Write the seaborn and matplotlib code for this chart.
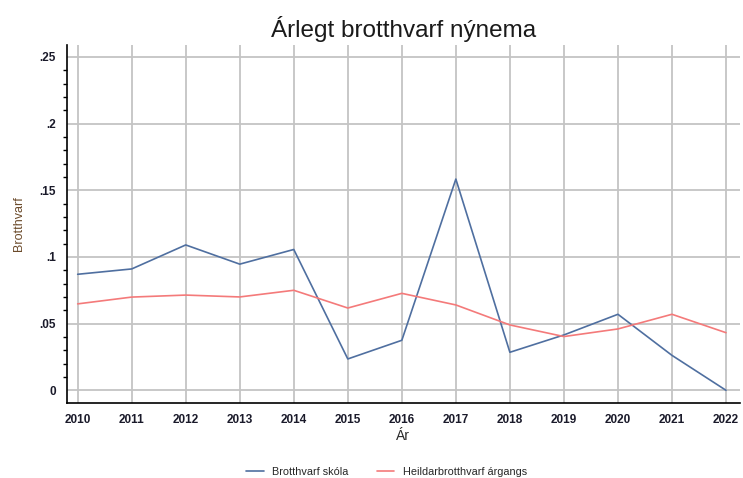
import numpy as np
import pandas as pd
import matplotlib
matplotlib.use("Agg")
import matplotlib.pyplot as plt
from matplotlib.ticker import MultipleLocator, FuncFormatter
import seaborn as sns

years = [2010, 2011, 2012, 2013, 2014, 2015, 2016, 2017, 2018, 2019, 2020, 2021, 2022]
brotthvarf_skola = [0.087, 0.091, 0.109, 0.0946, 0.1056, 0.0235, 0.0375, 0.1584,
                    0.0285, 0.0415, 0.057, 0.0262, 0.0]
heildar_argangs = [0.0648, 0.0699, 0.0714, 0.070, 0.075, 0.0617, 0.0727, 0.064,
                   0.049, 0.0403, 0.046, 0.057, 0.0432]
series_names = ["Brotthvarf skóla", "Heildarbrotthvarf árgangs"]
y_ticks = [0, 0.05, 0.1, 0.15, 0.2, 0.25]

df = pd.DataFrame({
    "Ár": years * 2,
    "Brotthvarf": brotthvarf_skola + heildar_argangs,
    "Röð": [series_names[0]] * len(years) + [series_names[1]] * len(years),
})

sns.set_style("white")
plt.rcParams["font.family"] = ["Liberation Sans", "DejaVu Sans"]

fig = plt.figure(figsize=(7.43, 4.78), dpi=100)
ax = fig.add_axes([0.090, 0.157, 0.906, 0.749])

sns.lineplot(data=df, x="Ár", y="Brotthvarf", hue="Röð",
             palette=["#4f6fa0", "#f47a7a"], linewidth=1.2, ax=ax)

ax.set_xlim(2009.8, 2022.26)
ax.set_ylim(-0.0095, 0.259)
ax.set_xticks(years)
ax.set_yticks(y_ticks)
ax.yaxis.set_minor_locator(MultipleLocator(0.01))
ax.yaxis.set_major_formatter(FuncFormatter(
    lambda v, p: "0" if abs(v) < 1e-9 else ("%g" % round(v, 2)).lstrip("0")))

ax.grid(True, which="major", color="#c4c4c4", linewidth=1.3)
ax.set_axisbelow(True)
for s in ["top", "right"]:
    ax.spines[s].set_visible(False)
for s in ["left", "bottom"]:
    ax.spines[s].set_color("black")
    ax.spines[s].set_linewidth(1.2)

ax.tick_params(axis="both", which="major", direction="out", length=5, width=1,
               color="black", labelsize=8.5, pad=3)
ax.tick_params(axis="y", which="minor", direction="out", length=3, width=1,
               color="black", left=True)
for lab in ax.get_xticklabels() + ax.get_yticklabels():
    lab.set_fontweight("bold")
    lab.set_color("#1a1a2a")

ax.set_xlabel("Ár", fontsize=10, color="#2a2a2a", labelpad=2)
ax.set_ylabel("Brotthvarf", fontsize=9, color="#6b4a2a", labelpad=10)
ax.set_title("Árlegt brotthvarf nýnema", fontsize=17.5, color="#1a1a1a", pad=6)

ax.legend(loc="center", bbox_to_anchor=(0.475, -0.193), ncol=2, frameon=False,
          fontsize=7.8, handlelength=1.6, handletextpad=0.8, columnspacing=2.6,
          title=None)

fig.savefig("out.png", dpi=100)
